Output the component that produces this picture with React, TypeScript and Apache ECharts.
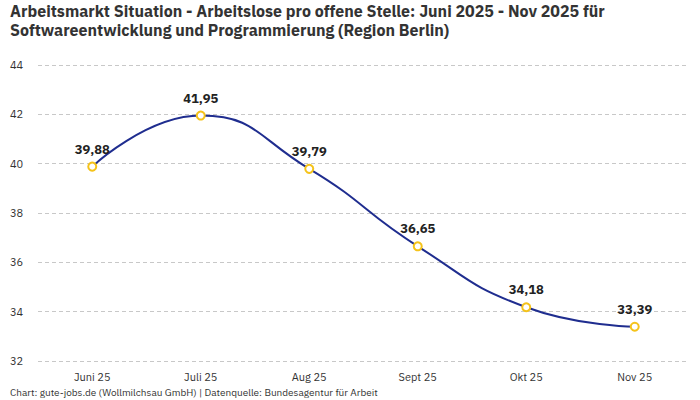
import { useEffect, useRef } from 'react';
import * as echarts from 'echarts';

const categories = ['Juni 25', 'Juli 25', 'Aug 25', 'Sept 25', 'Okt 25', 'Nov 25'];
const values = [39.88, 41.95, 39.79, 36.65, 34.18, 33.39];

const titleText =
  'Arbeitsmarkt Situation - Arbeitslose pro offene Stelle: Juni 2025 - Nov 2025 für\nSoftwareentwicklung und Programmierung (Region Berlin)';
const footerText = 'Chart: gute-jobs.de (Wollmilchsau GmbH) | Datenquelle: Bundesagentur für Arbeit';

const FONT = '"IBM Plex Sans", "Noto Sans", sans-serif';

export default function App() {
  const chartRef = useRef<HTMLDivElement>(null);

  useEffect(() => {
    if (!chartRef.current) return;
    const chart = echarts.init(chartRef.current, null, { renderer: 'svg' });

    chart.setOption({
      animation: false,
      backgroundColor: '#fff',
      textStyle: { fontFamily: FONT },
      title: {
        text: titleText,
        left: 10,
        top: 1,
        padding: 0,
        textStyle: {
          fontFamily: FONT,
          fontSize: 16,
          fontWeight: 'bold',
          color: '#333',
          lineHeight: 19,
        },
      },
      graphic: [
        {
          type: 'text',
          left: 10,
          top: 387,
          style: {
            text: footerText,
            fontFamily: FONT,
            fontSize: 10,
            fill: '#333',
          },
        },
      ],
      grid: { left: 38, right: 11, top: 65, bottom: 39 },
      xAxis: {
        type: 'category',
        data: categories,
        boundaryGap: true,
        axisLine: { show: false },
        axisTick: { show: false },
        axisLabel: { color: '#333', fontSize: 11, margin: 10, fontFamily: FONT },
      },
      yAxis: {
        type: 'value',
        min: 32,
        max: 44,
        interval: 2,
        axisLine: { show: false },
        axisTick: { show: false },
        axisLabel: { color: '#333', fontSize: 11, align: 'left', margin: 28, fontFamily: FONT },
        splitLine: { lineStyle: { color: '#c8c8c8', type: [4, 3] } },
      },
      series: [
        {
          type: 'line',
          data: values,
          smooth: 0.5,
          symbol: 'circle',
          symbolSize: 8,
          lineStyle: { color: '#1f2d8f', width: 2 },
          itemStyle: { color: '#fff', borderColor: '#f5c31a', borderWidth: 2 },
          label: {
            show: true,
            position: 'top',
            distance: 6,
            color: '#222',
            fontSize: 13,
            fontWeight: 'bold',
            fontFamily: FONT,
            formatter: (p: any) => p.value.toFixed(2).replace('.', ','),
          },
        },
      ],
    });

    return () => chart.dispose();
  }, []);

  return (
    <div
      ref={chartRef}
      style={{ position: 'absolute', left: 0, top: 0, width: 700, height: 400 }}
    />
  );
}
